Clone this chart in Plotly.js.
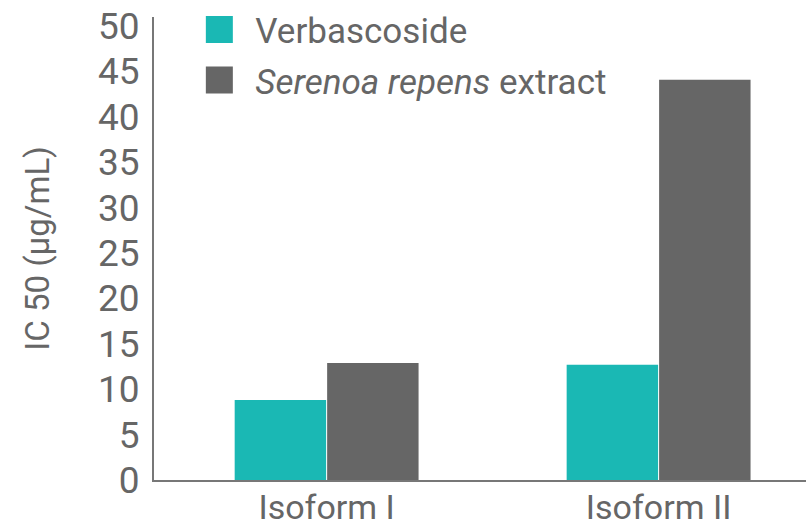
<!DOCTYPE html>
<html>
<head>
<meta charset="utf-8">
<script src="https://cdn.plot.ly/plotly-3.0.1.min.js"></script>
<style>html,body{margin:0;padding:0;background:#fff;}#chart{width:806px;height:526px;}</style>
</head>
<body>
<div id="chart"></div>
<script>
const categories = ["Isoform I", "Isoform II"];
const verbascoside = [8.8, 12.7];
const serenoa = [12.9, 44.1];
const seriesNames = ["Verbascoside", "<i>Serenoa repens</i> extract"];
const yTicks = [0, 5, 10, 15, 20, 25, 30, 35, 40, 45, 50];

const textColor = "#666666";
const traces = [
  {type: "bar", x: categories, y: verbascoside, name: seriesNames[0], legendgroup: "a",
   marker: {color: "#1ab8b4", line: {width: 0}}, hoverinfo: "skip"},
  {type: "bar", x: categories, y: serenoa, name: seriesNames[1], legendgroup: "b",
   marker: {color: "#666666", line: {width: 0}}, hoverinfo: "skip"}
];
const layout = {
  width: 806, height: 526,
  margin: {l: 154, r: 0, t: 15, b: 46, pad: 0},
  paper_bgcolor: "#fff", plot_bgcolor: "#fff",
  font: {family: "Roboto, sans-serif", color: textColor},
  barmode: "group", bargap: 0.443, bargroupgap: 0.011,
  xaxis: {
    range: [-0.52, 1.444], showgrid: false, zeroline: false,
    showline: true, linecolor: "#777777", linewidth: 2,
    ticks: "", tickfont: {size: 34, color: textColor}, ticklabelstandoff: -4,
    fixedrange: true
  },
  yaxis: {
    range: [0, 51], tickvals: yTicks, ticktext: yTicks.map(String),
    showgrid: false, zeroline: false,
    showline: true, linecolor: "#777777", linewidth: 2,
    ticks: "", tickfont: {size: 37, color: textColor}, ticklabelstandoff: 5,
    title: {text: "IC 50 (µg/mL)", font: {size: 33, color: textColor}, standoff: 38},
    fixedrange: true
  },
  showlegend: true,
  legend: {
    x: 0.045, xanchor: "left", y: 1.036, yanchor: "top",
    bgcolor: "rgba(0,0,0,0)", font: {size: 35, color: textColor},
    itemwidth: 62, tracegroupgap: 2, traceorder: "grouped"
  }
};
Plotly.newPlot("chart", traces, layout, {staticPlot: true, displayModeBar: false}).then(function () {
  document.querySelectorAll(".legend .legendpoints path").forEach(function (p) {
    const t = p.getAttribute("transform") || "";
    p.setAttribute("transform", t + " scale(2.25)");
  });
});
</script>
</body>
</html>
